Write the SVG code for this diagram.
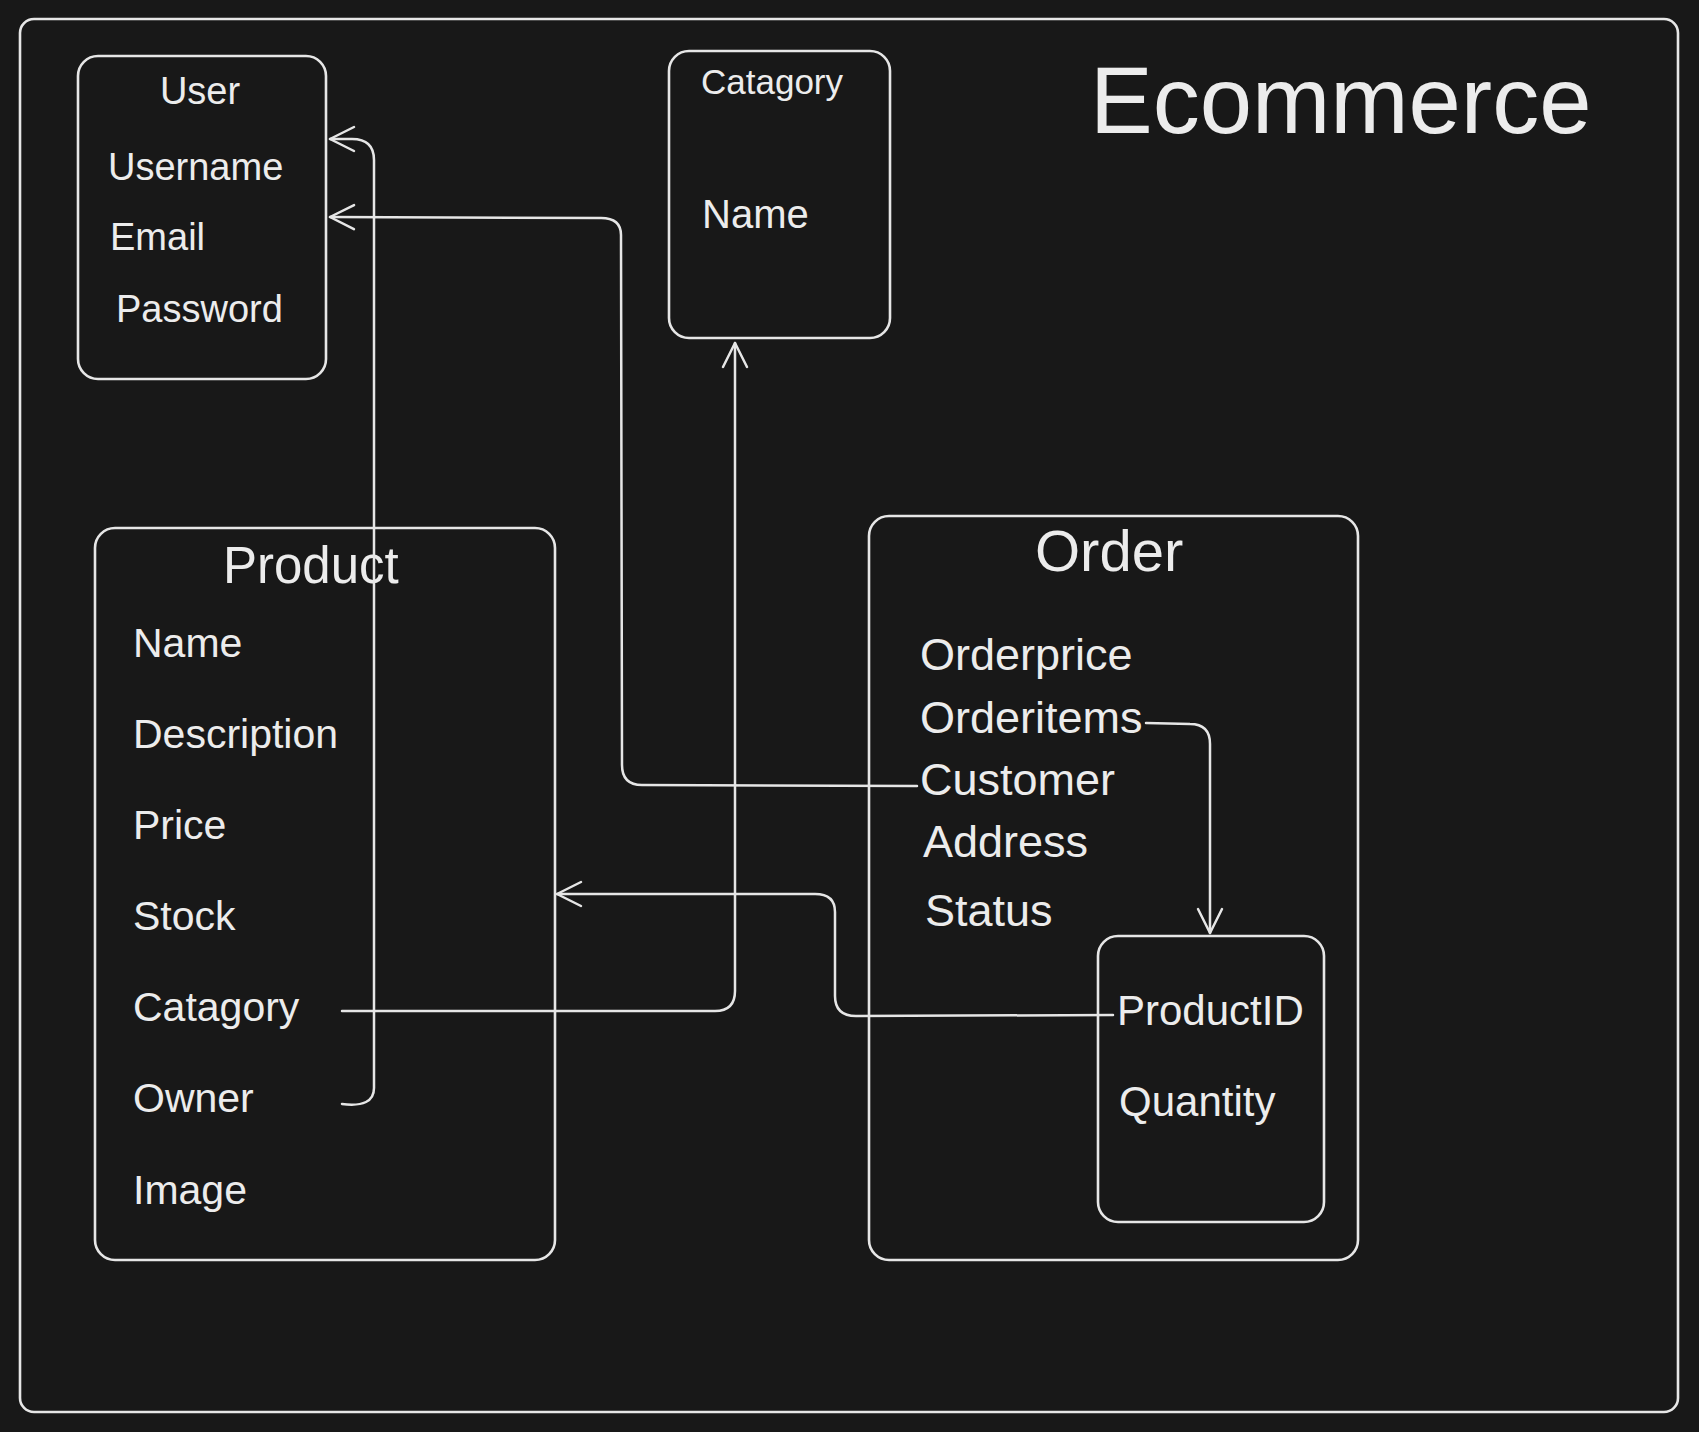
<svg xmlns="http://www.w3.org/2000/svg" width="1699" height="1432" viewBox="0 0 1699 1432">
<style>
.box{fill:none;stroke:#e6e6e6;stroke-width:2.6;stroke-linecap:round;stroke-linejoin:round}
.conn{fill:none;stroke:#e6e6e6;stroke-width:2.5;stroke-linecap:round;stroke-linejoin:round}
text{fill:#ececec;font-family:"Liberation Sans",Arial,sans-serif}
.u{font-size:38px}
.p{font-size:41px}
.o{font-size:45px}
.i{font-size:42px}
</style>
<defs>
<marker id="arr" viewBox="-30 -15 34 30" refX="0" refY="0" markerWidth="34" markerHeight="30" markerUnits="userSpaceOnUse" orient="auto">
<path d="M -24 -12 L 0 0 L -24 12" fill="none" stroke="#e6e6e6" stroke-width="2.5" stroke-linecap="round" stroke-linejoin="round"/>
</marker>
</defs>
<rect width="1699" height="1432" fill="#181818"/>
<g id="frame">
<rect class="box" x="20" y="19" width="1658" height="1393" rx="14"/>
<text x="1090" y="133" font-size="94">Ecommerce</text>
</g>
<g id="user">
<rect class="box" x="78" y="56" width="248" height="323" rx="20"/>
<text class="u" x="200" y="104" text-anchor="middle">User</text>
<text class="u" x="108" y="180">Username</text>
<text class="u" x="110" y="250">Email</text>
<text class="u" x="116" y="322">Password</text>
</g>
<g id="catagory">
<rect class="box" x="669" y="51" width="221" height="287" rx="20"/>
<text x="701" y="94" font-size="35">Catagory</text>
<text x="702" y="228" font-size="40">Name</text>
</g>
<g id="product">
<rect class="box" x="95" y="528" width="460" height="732" rx="20"/>
<text x="223" y="583" font-size="51">Product</text>
<text class="p" x="133" y="657">Name</text>
<text class="p" x="133" y="748">Description</text>
<text class="p" x="133" y="839">Price</text>
<text class="p" x="133" y="930">Stock</text>
<text class="p" x="133" y="1021">Catagory</text>
<text class="p" x="133" y="1112">Owner</text>
<text class="p" x="133" y="1204">Image</text>
</g>
<g id="order">
<rect class="box" x="869" y="516" width="489" height="744" rx="20"/>
<text x="1035" y="571" font-size="58">Order</text>
<text class="o" x="920" y="670">Orderprice</text>
<text class="o" x="920" y="733">Orderitems</text>
<text class="o" x="920" y="795">Customer</text>
<text class="o" x="923" y="857">Address</text>
<text class="o" x="925" y="926">Status</text>
</g>
<g id="orderitem">
<rect class="box" x="1098" y="936" width="226" height="286" rx="20"/>
<text class="i" x="1117" y="1025">ProductID</text>
<text class="i" x="1119" y="1116">Quantity</text>
</g>
<g id="connectors">
<path class="conn" d="M 342 1104 Q 374 1108 374 1088 L 374 160 Q 374 139 352 139 L 330 139" marker-end="url(#arr)"/>
<path class="conn" d="M 917 786 L 642 785 Q 622 785 622 765 L 621 235 Q 621 218 601 218 L 330 217" marker-end="url(#arr)"/>
<path class="conn" d="M 342 1011 L 715 1011 Q 735 1011 735 991 L 735 343" marker-end="url(#arr)"/>
<path class="conn" d="M 1113 1015 L 856 1016 Q 835 1016 835 996 L 835 912 Q 835 894 815 894 L 557 894" marker-end="url(#arr)"/>
<path class="conn" d="M 1146 723 L 1190 724 Q 1210 724 1210 744 L 1210 933" marker-end="url(#arr)"/>
</g>
</svg>
